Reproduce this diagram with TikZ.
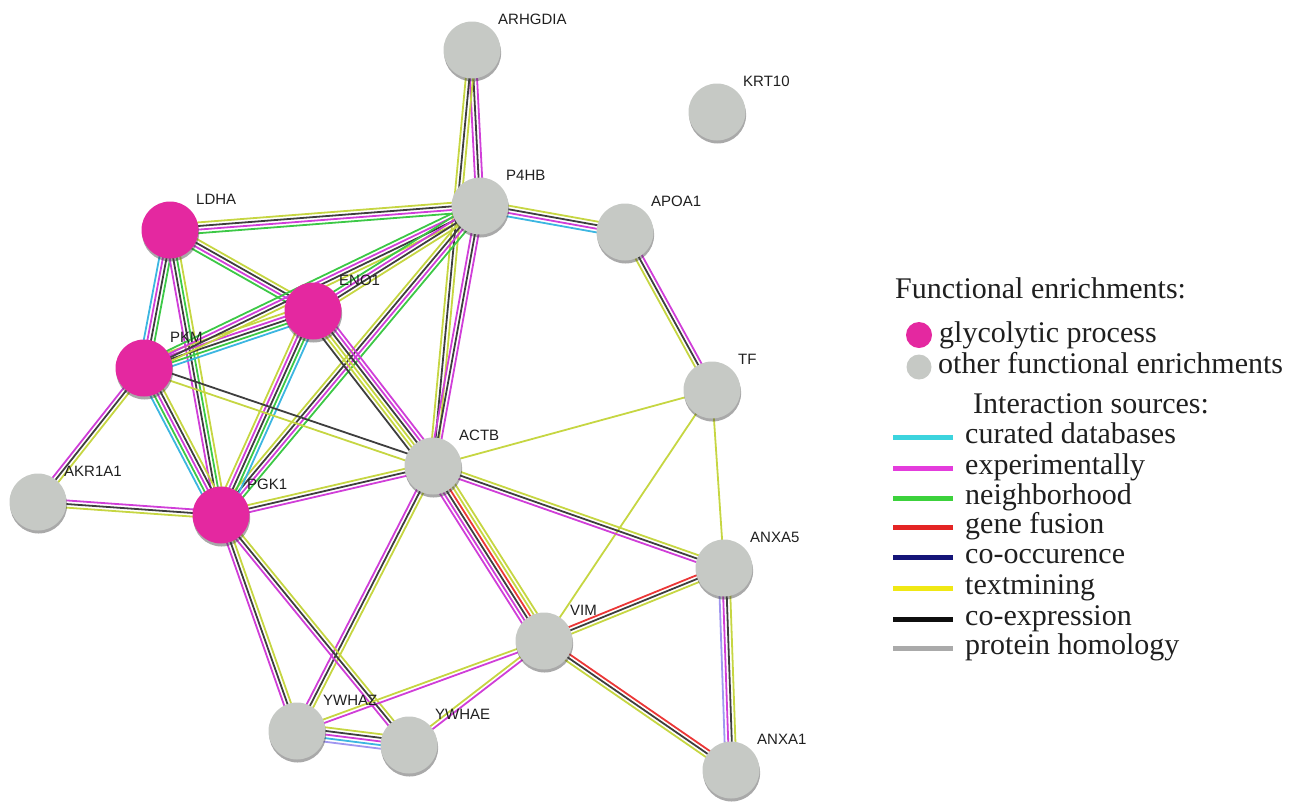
\documentclass[tikz,border=0pt]{standalone}
\usepackage{fontspec}
\setmainfont{Liberation Serif}
\newfontfamily\lblfont{Liberation Sans}
\usetikzlibrary{calc,backgrounds,shadows}
\definecolor{tm}{RGB}{198,214,66}
\definecolor{ex}{RGB}{208,62,216}
\definecolor{ce}{RGB}{62,62,62}
\definecolor{nb}{RGB}{60,200,70}
\definecolor{cd}{RGB}{60,182,225}
\definecolor{gf}{RGB}{235,55,55}
\definecolor{co}{RGB}{160,150,240}
\definecolor{glyc}{RGB}{228,40,160}
\definecolor{oth}{RGB}{198,201,197}
\definecolor{lcd}{RGB}{60,212,222}
\definecolor{lex}{RGB}{228,60,220}
\definecolor{lnb}{RGB}{60,210,60}
\definecolor{lgf}{RGB}{228,36,36}
\definecolor{lco}{RGB}{20,20,120}
\definecolor{ltm}{RGB}{240,232,20}
\definecolor{lce}{RGB}{15,15,15}
\definecolor{lph}{RGB}{170,170,170}
\tikzset{
  gene/.style={circle, minimum size=57pt, inner sep=0pt, draw=none,
    drop shadow={shadow xshift=0.6pt, shadow yshift=-3pt, fill=black!75, opacity=0.45}},
  glycnode/.style={gene, fill=glyc},
  othnode/.style={gene, fill=oth},
  lbl/.style={font=\lblfont\fontsize{15}{15}\selectfont, inner sep=0pt, anchor=west, text=black!88},
  legtxt/.style={font=\fontsize{30}{30}\selectfont, inner sep=0pt, anchor=base west, text=black!88},
  legline/.style={line width=5pt},
  legdot/.style={circle, inner sep=0pt, minimum size=26pt, draw=none},
}
\newcommand\edg[4]{%
  \foreach \cc [count=\ii] in {#4}{%
    \pgfmathsetmacro\oo{(\ii-(#3+1)/2)*3.6}%
    \draw[line width=1.8pt, draw=\cc] ($(#1.center)!\oo pt!90:(#2.center)$) -- ($(#2.center)!\oo pt!-90:(#1.center)$);%
  }}
\begin{document}
\begin{tikzpicture}[x=1pt,y=-1pt]
\useasboundingbox (0,0) rectangle (1299,801);
% nodes
\node[othnode] (ARHGDIA) at (472,50) {};
\node[othnode] (KRT10) at (717,112) {};
\node[othnode] (P4HB) at (480,206) {};
\node[othnode] (APOA1) at (625,232) {};
\node[glycnode] (LDHA) at (170,230) {};
\node[glycnode] (ENO1) at (313,311) {};
\node[glycnode] (PKM) at (144,368) {};
\node[othnode] (TF) at (712,390) {};
\node[othnode] (ACTB) at (433,466) {};
\node[othnode] (AKR1A1) at (38,502) {};
\node[glycnode] (PGK1) at (221,515) {};
\node[othnode] (ANXA5) at (724,568) {};
\node[othnode] (VIM) at (544,641) {};
\node[othnode] (YWHAZ) at (297,731) {};
\node[othnode] (YWHAE) at (409,745) {};
\node[othnode] (ANXA1) at (731,770) {};
% labels
\foreach \n in {ARHGDIA,KRT10,P4HB,APOA1,LDHA,ENO1,PKM,TF,ACTB,AKR1A1,PGK1,ANXA5,VIM,YWHAZ,YWHAE,ANXA1}{
  \node[lbl] (\n-lbl) at ($(\n.center)+(26,-31)$) {\n};
}
% edges
\begin{pgfonlayer}{background}
\edg{ARHGDIA}{P4HB}{3}{ex,ce,ex}
\edg{ARHGDIA}{ACTB}{3}{tm,ce,tm}
\edg{P4HB}{APOA1}{4}{cd,ex,ce,tm}
\edg{APOA1}{TF}{3}{tm,ce,ex}
\edg{TF}{ACTB}{1}{tm}
\edg{TF}{VIM}{1}{tm}
\edg{TF}{ANXA5}{1}{tm}
\edg{LDHA}{P4HB}{4}{nb,ex,ce,tm}
\edg{LDHA}{ENO1}{4}{nb,ex,ce,tm}
\edg{LDHA}{PKM}{4}{cd,ex,ce,nb}
\edg{LDHA}{PGK1}{4}{ex,ce,nb,tm}
\edg{PKM}{ENO1}{5}{cd,nb,ce,ex,tm}
\edg{PKM}{P4HB}{4}{tm,ce,ex,nb}
\edg{ENO1}{P4HB}{4}{tm,ce,ex,nb}
\edg{PGK1}{P4HB}{4}{nb,ex,ce,tm}
\edg{PGK1}{ENO1}{5}{cd,nb,ce,ex,tm}
\edg{PKM}{PGK1}{5}{cd,nb,ex,ce,tm}
\edg{PKM}{AKR1A1}{3}{ex,ce,tm}
\edg{AKR1A1}{PGK1}{3}{tm,ce,ex}
\edg{PKM}{ACTB}{3}{tm,none,ce}
\edg{ENO1}{ACTB}{6}{ce,tm,tm,ce,ex,ex}
\edg{ACTB}{VIM}{6}{ex,ex,ce,gf,tm,tm}
\edg{P4HB}{ACTB}{3}{ex,ce,ex}
\edg{ACTB}{PGK1}{3}{tm,ce,ex}
\edg{ACTB}{ANXA5}{3}{ex,ce,tm}
\edg{ACTB}{YWHAZ}{3}{ex,ce,tm}
\edg{PGK1}{YWHAZ}{3}{ex,ce,tm}
\edg{PGK1}{YWHAE}{3}{ex,ce,tm}
\edg{VIM}{YWHAZ}{2}{tm,ex}
\edg{VIM}{YWHAE}{2}{tm,ex}
\edg{YWHAZ}{YWHAE}{5}{co,cd,ex,ce,tm}
\edg{VIM}{ANXA5}{3}{tm,ce,gf}
\edg{VIM}{ANXA1}{3}{tm,ce,gf}
\edg{ANXA5}{ANXA1}{4}{co,ex,ce,tm}
\end{pgfonlayer}
% legend
\node[legtxt] (fe) at (895,298) {Functional enrichments:};
\node[legdot, fill=glyc] (lgdot) at (919,335) {};
\node[legtxt] (lgtxt) at (939,342) {glycolytic process};
\node[legdot, fill=oth, minimum size=25pt] (lodot) at (919,367) {};
\node[legtxt] (lotxt) at (938,373) {other functional enrichments};
\node[legtxt] (isrc) at (973,413) {Interaction sources:};
\foreach \c/\t/\y in {lcd/curated databases/437, lex/experimentally/468, lnb/neighborhood/498, lgf/gene fusion/527, lco/co-occurence/557, ltm/textmining/588, lce/co-expression/619, lph/protein homology/648}{
  \coordinate (a-\c) at (893,\y);
  \coordinate (b-\c) at (953,\y);
  \draw[legline, draw=\c] (a-\c) -- (b-\c);
  \node[legtxt] (t-\c) at (965,\y+6) {\t};
}
\end{tikzpicture}
\end{document}
